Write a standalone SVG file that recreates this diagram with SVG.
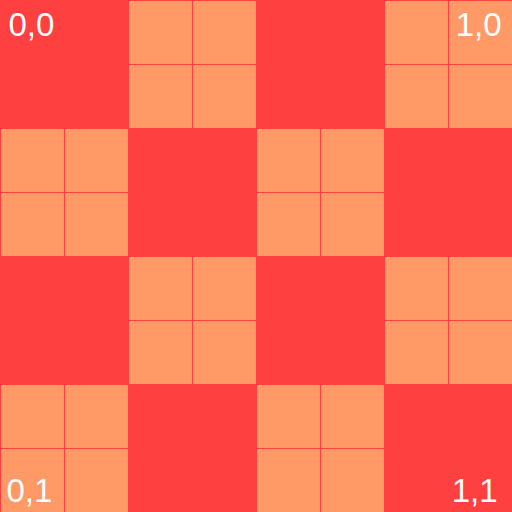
<svg xmlns="http://www.w3.org/2000/svg" width="512" height="512" viewBox="0 0 512 512">
<defs>
<style>
.bg{fill:#ff4040}
.o{fill:#ff9966}
.t{fill:#ffffff;font-family:"Liberation Sans",Arial,sans-serif;font-size:33px}
</style>
<g id="tile">
<rect class="o" x="1" y="1" width="63" height="63"/>
<rect class="o" x="65" y="1" width="63" height="63"/>
<rect class="o" x="1" y="65" width="63" height="63"/>
<rect class="o" x="65" y="65" width="63" height="63"/>
</g>
</defs>
<rect class="bg" x="0" y="0" width="512" height="512"/>
<g id="cells">
<use href="#tile" x="128" y="0"/>
<use href="#tile" x="384" y="0"/>
<use href="#tile" x="0" y="128"/>
<use href="#tile" x="256" y="128"/>
<use href="#tile" x="128" y="256"/>
<use href="#tile" x="384" y="256"/>
<use href="#tile" x="0" y="384"/>
<use href="#tile" x="256" y="384"/>
</g>
<g id="labels">
<text class="t" x="8.5" y="36">0,0</text>
<text class="t" x="501.5" y="36" text-anchor="end">1,0</text>
<text class="t" x="6.5" y="502">0,1</text>
<text class="t" x="497.5" y="502" text-anchor="end">1,1</text>
</g>
</svg>
